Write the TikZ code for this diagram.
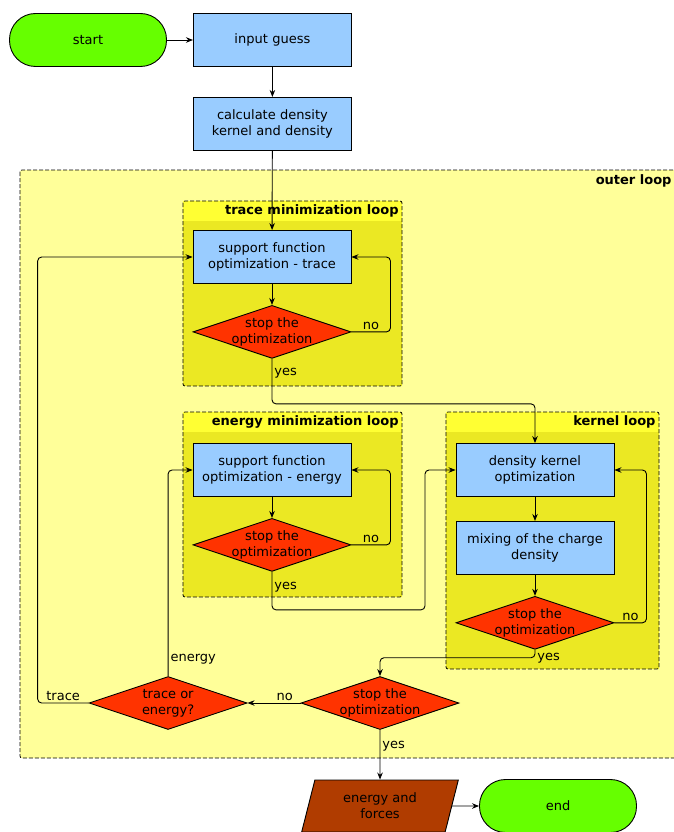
\documentclass[tikz,border=0pt]{standalone}
\usepackage{fontspec}
\setmainfont{DejaVu Sans}
\usetikzlibrary{shapes.geometric,arrows.meta,positioning}

\definecolor{termgreen}{HTML}{66FF00}
\definecolor{procblue}{HTML}{99CCFF}
\definecolor{decred}{HTML}{FF3300}
\definecolor{iobrown}{HTML}{B03C00}
\definecolor{outeryellow}{HTML}{FFFF99}
\definecolor{loopyellow}{HTML}{EBE823}
\definecolor{headyellow}{HTML}{FFFF33}

\begin{document}
\begin{tikzpicture}[
    x=1pt, y=-1pt,
    font=\fontsize{13}{16}\selectfont,
    line width=0.9pt,
    terminal/.style={rectangle, rounded corners=26pt, draw, fill=termgreen, minimum width=157pt, minimum height=53pt},
    process/.style={rectangle, draw, fill=procblue, text width=152pt, inner sep=3pt, align=center, minimum height=53pt},
    decision/.style={diamond, aspect=3, draw, fill=decred, align=center, inner sep=-8pt, minimum width=158pt, minimum height=53pt},
    io/.style={trapezium, trapezium left angle=76, trapezium right angle=104, trapezium stretches=true, draw, fill=iobrown, align=center, minimum width=157pt, minimum height=52pt},
    loopbox/.style={draw, line width=0.8pt, dash pattern=on 4pt off 2pt, rounded corners=2pt},
    looptitle/.style={anchor=east, font=\fontsize{13}{16}\selectfont\bfseries, inner sep=1pt},
    arrow/.style={->, >={Stealth[length=7pt,width=5.5pt]}, rounded corners=4pt},
    lbl/.style={inner sep=2pt}
]
\clip (0,0) rectangle (674,832);

% Outer loop
\draw[loopbox, fill=outeryellow] (20,170) rectangle (700,758);
\node[looptitle] (outertitle) at (673,181) {outer loop};

% Inner loops
\fill[loopyellow] (183,201) rectangle (402,386);
\fill[headyellow] (183,201) rectangle (402,221);
\draw[loopbox] (183,201) rectangle (402,386);
\node[looptitle] (tracetitle) at (400,211) {trace minimization loop};

\fill[loopyellow] (183,412) rectangle (402,597);
\fill[headyellow] (183,412) rectangle (402,432);
\draw[loopbox] (183,412) rectangle (402,597);
\node[looptitle] (energytitle) at (400,422) {energy minimization loop};

\fill[loopyellow] (446,412) rectangle (659,669);
\fill[headyellow] (446,412) rectangle (659,432);
\draw[loopbox] (446,412) rectangle (659,669);
\node[looptitle] (kerneltitle) at (657,422) {kernel loop};

% Start and setup
\node[terminal] (start) at (88,40) {start};
\node[process, right=26pt of start] (guess) {input guess};
\node[process, below=30pt of guess] (density) {calculate density\\kernel and density};

% Trace minimization
\node[process] (supptrace) at (272,257) {support function\\optimization - trace};
\node[decision, below=21pt of supptrace] (stoptrace) {stop the\\optimization};

% Energy minimization
\node[process] (suppenergy) at (272,470) {support function\\optimization - energy};
\node[decision, below=21pt of suppenergy] (stopenergy) {stop the\\optimization};

% Kernel loop
\node[process] (kernel) at (535,470) {density kernel\\optimization};
\node[process, below=24pt of kernel] (mixing) {mixing of the charge\\density};
\node[decision, below=21pt of mixing] (stopkernel) {stop the\\optimization};

% Outer decisions
\node[decision] (stopouter) at (380,703) {stop the\\optimization};
\node[decision, left=53pt of stopouter] (choice) {trace or\\energy?};

% Output
\node[io] (forces) at (380,806) {energy and\\forces};
\node[terminal] (end) at (558,806) {end};

% Connectors
\draw[arrow] (start) -- (guess);
\draw[arrow] (guess) -- (density);
\draw[arrow] (density) -- (supptrace);
\draw[arrow] (supptrace) -- (stoptrace);
\draw[arrow] (stoptrace.east) -- ++(39,0) node[lbl, midway, above] {no} |- (supptrace.east);
\draw[arrow] (stoptrace.south) -- ++(0,45) node[lbl, pos=0.33, right] {yes} -| (kernel.north);

\draw[arrow] (suppenergy) -- (stopenergy);
\draw[arrow] (stopenergy.east) -- ++(39,0) node[lbl, midway, above] {no} |- (suppenergy.east);
\draw[arrow] (stopenergy.south) -- ++(0,38) node[lbl, pos=0.4, right] {yes} -- ++(153,0) |- (kernel.west);

\draw[arrow] (kernel) -- (mixing);
\draw[arrow] (mixing) -- (stopkernel);
\draw[arrow] (stopkernel.east) -- ++(32,0) node[lbl, midway, above] {no} |- (kernel.east);
\draw[arrow] (stopkernel.south) -- ++(0,8) node[lbl, pos=1, right] {yes} -| (stopouter.north);

\draw[arrow] (stopouter.west) -- (choice.east) node[lbl, pos=0.3, above] {no};
\draw[arrow] (choice.west) -- ++(-51,0) node[lbl, midway, above] {trace} |- (supptrace.west);
\draw[arrow] (choice.north) |- (suppenergy.west) node[lbl, pos=0.04, right] {energy};

\draw[arrow] (stopouter.south) -- (forces.north) node[lbl, pos=0.32, right] {yes};
\draw[arrow] (forces.east) -- (end.west);

\end{tikzpicture}
\end{document}
